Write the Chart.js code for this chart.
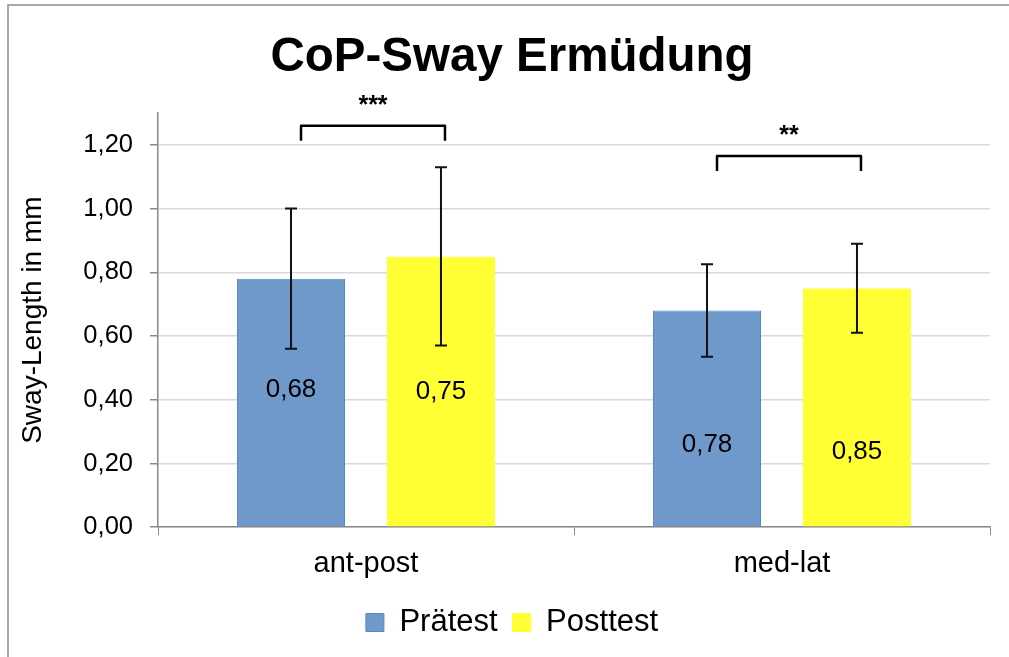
<!DOCTYPE html>
<html>
<head>
<meta charset="utf-8">
<script src="https://cdn.jsdelivr.net/npm/chart.js@4/dist/chart.umd.min.js"></script>
<style>
  html, body { margin: 0; padding: 0; background: #fff; }
  #wrap { width: 1009px; height: 657px; }
</style>
</head>
<body>
<div id="wrap"><canvas id="swayChart"></canvas></div>
<script>
// data
const categories = ['ant-post', 'med-lat'];
const praetest = [0.78, 0.68];
const posttest = [0.85, 0.75];
const praetestErr = [0.22, 0.145];
const posttestErr = [0.28, 0.14];
// value labels as printed inside the bars
const praetestLabels = ['0,68', '0,78'];
const posttestLabels = ['0,75', '0,85'];
const significance = ['***', '**'];
const yTicks = [0, 0.2, 0.4, 0.6, 0.8, 1.0, 1.2];

const BLUE = '#6F99CB';
const YELLOW = '#FFFF33';
const FONT = 'Liberation Sans, Arial, sans-serif';

// where the value labels sit (data units) and the bracket heights
const labelAnchor = [[0.43, 0.26], [0.425, 0.235]];
const bracketLevel = [1.26, 1.165];

// frame around the whole chart
const framePlugin = {
    id: 'frame',
    beforeDraw(chart) {
        const ctx = chart.ctx;
        ctx.save();
        ctx.fillStyle = '#fff';
        ctx.fillRect(0, 0, chart.width, chart.height);
        ctx.strokeStyle = '#8c8c8c';
        ctx.lineWidth = 1.5;
        ctx.strokeRect(8, 5, chart.width + 10, chart.height + 10);
        ctx.restore();
    }
};

// error bars, value labels and significance brackets
const extrasPlugin = {
    id: 'extras',
    afterDatasetsDraw(chart) {
        const ctx = chart.ctx;
        const y = chart.scales.y;
        const errs = [praetestErr, posttestErr];
        const labels = [praetestLabels, posttestLabels];
        ctx.save();

        chart.data.datasets.forEach((ds, di) => {
            const meta = chart.getDatasetMeta(di);
            meta.data.forEach((bar, i) => {
                const v = ds.data[i];
                const top = y.getPixelForValue(v + errs[di][i]);
                const bot = y.getPixelForValue(v - errs[di][i]);
                ctx.strokeStyle = '#111';
                ctx.lineWidth = 2;
                ctx.beginPath();
                ctx.moveTo(bar.x, top); ctx.lineTo(bar.x, bot);
                ctx.moveTo(bar.x - 6, top); ctx.lineTo(bar.x + 6, top);
                ctx.moveTo(bar.x - 6, bot); ctx.lineTo(bar.x + 6, bot);
                ctx.stroke();

                ctx.fillStyle = '#000';
                ctx.font = '26px ' + FONT;
                ctx.textAlign = 'center';
                ctx.textBaseline = 'middle';
                ctx.fillText(labels[di][i], bar.x, y.getPixelForValue(labelAnchor[di][i]));
            });
        });

        const m0 = chart.getDatasetMeta(0).data;
        const m1 = chart.getDatasetMeta(1).data;
        significance.forEach((s, i) => {
            const x1 = m0[i].x + 10, x2 = m1[i].x + 4;
            const by = y.getPixelForValue(bracketLevel[i]);
            ctx.strokeStyle = '#000';
            ctx.lineWidth = 2.5;
            ctx.lineJoin = 'round';
            ctx.beginPath();
            ctx.moveTo(x1, by + 15); ctx.lineTo(x1, by); ctx.lineTo(x2, by); ctx.lineTo(x2, by + 15);
            ctx.stroke();
            ctx.fillStyle = '#000';
            ctx.font = 'bold 25px ' + FONT;
            ctx.textAlign = 'center';
            ctx.textBaseline = 'middle';
            ctx.fillText(s, (x1 + x2) / 2, by - 20);
        });
        ctx.restore();
    }
};

const ctx = document.getElementById('swayChart').getContext('2d');
const swayChart = new Chart(ctx, {
    type: 'bar',
    data: {
        labels: categories,
        datasets: [{
            label: 'Prätest',
            data: praetest,
            backgroundColor: BLUE,
            borderColor: '#5A86C1',
            borderWidth: 1,
            categoryPercentage: 0.721,
            barPercentage: 0.72
        }, {
            label: 'Posttest',
            data: posttest,
            backgroundColor: YELLOW,
            borderColor: YELLOW,
            borderWidth: 1,
            categoryPercentage: 0.721,
            barPercentage: 0.72
        }]
    },
    options: {
        responsive: true,
        maintainAspectRatio: false,
        animation: false,
        layout: { padding: { left: 34, right: 19, top: 0, bottom: 9 } },
        plugins: {
            title: {
                display: true,
                text: 'CoP-Sway Ermüdung',
                color: '#000',
                font: { family: FONT, size: 47.5, weight: 'bold' },
                padding: { top: 29, bottom: 27 }
            },
            legend: {
                position: 'bottom',
                labels: {
                    color: '#000',
                    font: { family: FONT, size: 31 },
                    boxWidth: 18,
                    boxHeight: 18,
                    padding: 15
                }
            },
            tooltip: { enabled: false }
        },
        scales: {
            x: {
                grid: {
                    offset: true,
                    drawOnChartArea: false,
                    drawTicks: true,
                    tickLength: 8,
                    color: '#898989'
                },
                border: { color: '#898989', width: 1.5 },
                ticks: {
                    color: '#000',
                    font: { family: FONT, size: 29 },
                    padding: 11
                }
            },
            y: {
                min: 0,
                max: 1.3,
                afterBuildTicks(scale) {
                    scale.ticks = yTicks.map(v => ({ value: v }));
                },
                afterFit(scale) { scale.width = 124; },
                grid: {
                    color: '#D9D9D9',
                    lineWidth: 1.5,
                    tickColor: '#898989',
                    tickLength: 8
                },
                border: { color: '#898989', width: 1.5 },
                ticks: {
                    color: '#000',
                    font: { family: FONT, size: 25.5 },
                    padding: 17,
                    callback: v => v.toFixed(2).replace('.', ',')
                },
                title: {
                    display: true,
                    text: 'Sway-Length in mm',
                    color: '#000',
                    font: { family: FONT, size: 28 },
                    padding: { top: -18, bottom: 0 }
                }
            }
        }
    },
    plugins: [framePlugin, extrasPlugin]
});
</script>
</body>
</html>
